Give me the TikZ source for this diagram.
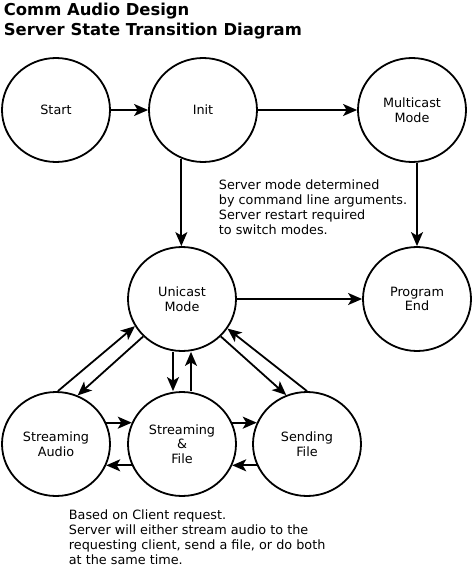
\documentclass[tikz,border=0pt]{standalone}
\usepackage{fontspec}
\setmainfont{DejaVu Sans}
\usetikzlibrary{arrows.meta, shapes.geometric}
\tikzset{every picture/.style={line width=1.8pt}}

\begin{document}
\begin{tikzpicture}
    [x=1pt, y=-1pt,
    state/.style = {ellipse, draw, align=center, inner sep=0pt,
            minimum width=108pt, minimum height=104pt,
            font=\fontsize{12.8}{14.7}\selectfont},
    note/.style = {anchor=north west, align=left, inner sep=0pt,
            font=\fontsize{12.8}{14.7}\selectfont},
    heading/.style = {anchor=north west, align=left, inner sep=0pt,
            font=\bfseries\fontsize{16.4}{20}\selectfont},
    -{Stealth[length=14pt, width=12pt, inset=3.5pt]},
    ]

    \useasboundingbox (0, 0) rectangle (472, 570);

	\node[heading] (title) at (3, 2.5) {Comm Audio Design\\Server State Transition Diagram};

	\node[state] (start) at (56, 110) {Start};
	\node[state] (init) at (203, 110) {Init};
	\node[state] (multi) at (412, 110) {Multicast\\Mode};

	\node[state] (uni) at (182, 299) {Unicast\\Mode};
	\node[state] (prog) at (417, 299) {Program\\End};

	\node[state] (audio) at (56, 444) {Streaming\\Audio};
	\node[state] (both) at (182, 444) {Streaming\\\&\\File};
	\node[state] (file) at (307, 444) {Sending\\File};

	\node[note] (modenote) at (218, 179.3) {Server mode determined\\by command line arguments.\\Server restart required\\to switch modes.};
	\node[note] (clientnote) at (68, 509.3) {Based on Client request.\\Server will either stream audio to the\\requesting client, send a file, or do both\\at the same time.};

    \draw (start) -- (init);
    \draw (init) -- (multi);
    \draw (init.246.5) -- (init.246.5 |- uni.north);
    \draw (multi.south -| prog.north) -- (prog.north);
    \draw (uni) -- (prog);

    \draw (audio.88) -- (uni.210);
    \draw (uni.224) -- (audio.66);
    \draw ([xshift=-9pt]uni.south) -- ([xshift=-9pt]both.north);
    \draw ([xshift=9pt]both.north) -- ([xshift=9pt]uni.south);
    \draw (uni.316) -- (file.113);
    \draw (file.90) -- (uni.327);

    \draw (audio.23) -- (both.157);
    \draw (both.203) -- (audio.-23);
    \draw (both.23) -- (file.157);
    \draw (file.203) -- (both.-23);
\end{tikzpicture}
\end{document}
